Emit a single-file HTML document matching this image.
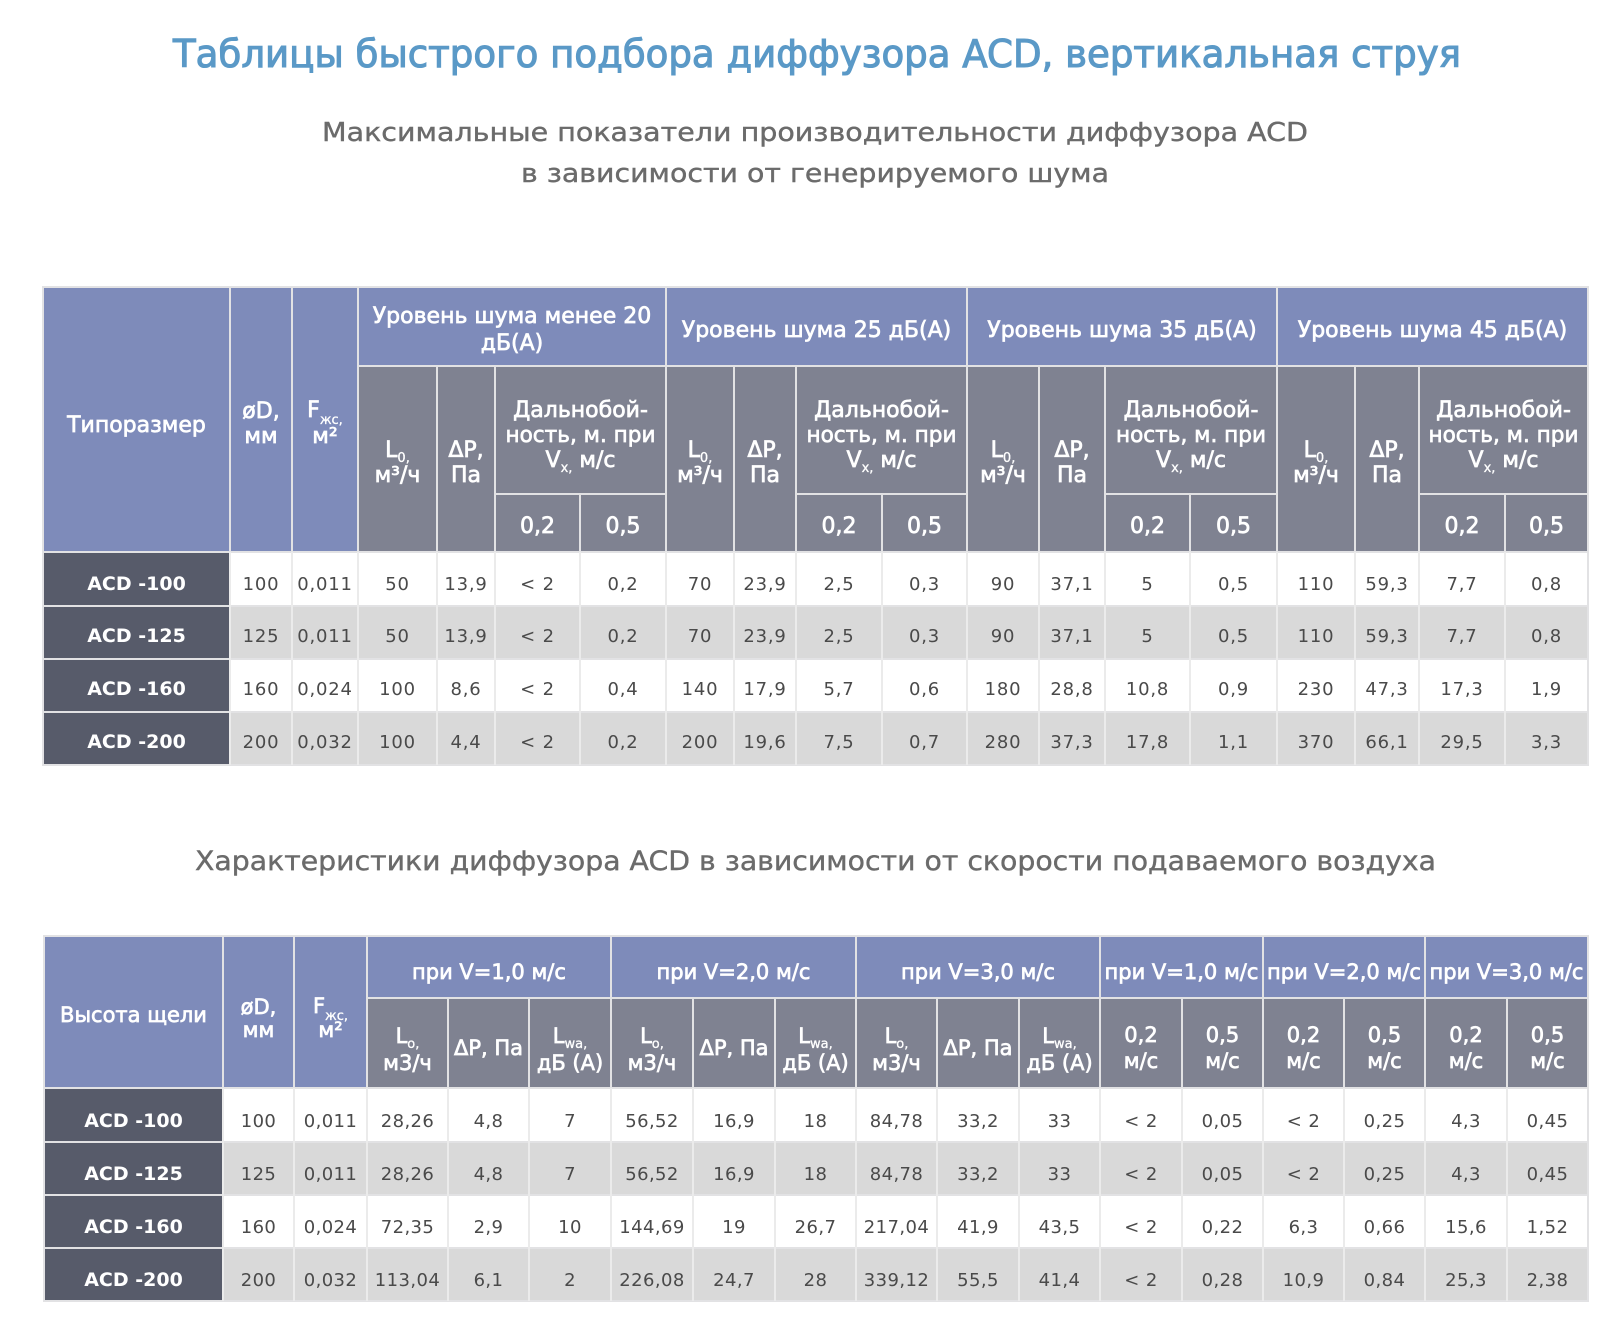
<!DOCTYPE html>
<html>
<head>
<meta charset="utf-8">
<style>
html,body{margin:0;padding:0;background:#fff;}
svg{display:block;}
.t{font-family:"DejaVu Sans","Liberation Sans",sans-serif;}
.h{font-family:"DejaVu Sans","Liberation Sans",sans-serif;font-size:22px;fill:#fff;stroke:#fff;stroke-width:0.7px;text-anchor:middle;}
.h2{font-family:"DejaVu Sans","Liberation Sans",sans-serif;font-size:21px;fill:#fff;stroke:#fff;stroke-width:0.7px;text-anchor:middle;}
.s{font-size:13px;stroke-width:0.3px;}
.d{font-family:"DejaVu Sans","Liberation Sans",sans-serif;font-size:18px;fill:#4a4a4a;text-anchor:middle;letter-spacing:0.8px;}
.d2{letter-spacing:0.4px;}
.n{font-family:"DejaVu Sans","Liberation Sans",sans-serif;font-size:19px;font-weight:bold;fill:#fff;text-anchor:middle;}
.b{fill:#7e8bba;}
.g{fill:#7f8291;}
.k{fill:#575b6a;}
.w{fill:#ffffff;}
.l{fill:#d9d9d9;}
.v{fill:#ebebeb;}
</style>
</head>
<body>
<svg width="1619" height="1338" viewBox="0 0 1619 1338" xmlns="http://www.w3.org/2000/svg">
<rect x="0" y="0" width="1619" height="1338" fill="#fff"/>

<!-- Titles -->
<text class="t" x="173" y="67" font-size="38" fill="#5a99c7" stroke="#5a99c7" stroke-width="1.1" textLength="1288" lengthAdjust="spacingAndGlyphs">Таблицы быстрого подбора диффузора ACD, вертикальная струя</text>
<text class="t" x="322" y="141" font-size="26" fill="#6b6b6b" stroke="#6b6b6b" stroke-width="0.4" textLength="986" lengthAdjust="spacingAndGlyphs">Максимальные показатели производительности диффузора ACD</text>
<text class="t" x="521" y="182" font-size="26" fill="#6b6b6b" stroke="#6b6b6b" stroke-width="0.4" textLength="588" lengthAdjust="spacingAndGlyphs">в зависимости от генерируемого шума</text>
<text class="t" x="195" y="870" font-size="27" fill="#6b6b6b" stroke="#6b6b6b" stroke-width="0.4" textLength="1241" lengthAdjust="spacingAndGlyphs">Характеристики диффузора ACD в зависимости от скорости подаваемого воздуха</text>

<!-- ================= TABLE 1 ================= -->
<rect x="42" y="286" width="1547" height="480" fill="#e2e2e4"/>
<rect class="b" x="44" y="288" width="185" height="263"/>
<rect class="b" x="231" y="288" width="60" height="263"/>
<rect class="b" x="293" y="288" width="64" height="263"/>
<rect class="b" x="359" y="288" width="306" height="77"/>
<rect class="b" x="667" y="288" width="299" height="77"/>
<rect class="b" x="968" y="288" width="308" height="77"/>
<rect class="b" x="1278" y="288" width="309" height="77"/>
<rect class="g" x="359" y="367" width="77" height="184"/>
<rect class="g" x="438" y="367" width="56" height="184"/>
<rect class="g" x="496" y="367" width="169" height="126"/>
<rect class="g" x="496" y="495" width="83" height="56"/>
<rect class="g" x="581" y="495" width="84" height="56"/>
<rect class="g" x="667" y="367" width="66" height="184"/>
<rect class="g" x="735" y="367" width="60" height="184"/>
<rect class="g" x="797" y="367" width="169" height="126"/>
<rect class="g" x="797" y="495" width="84" height="56"/>
<rect class="g" x="883" y="495" width="83" height="56"/>
<rect class="g" x="968" y="367" width="70" height="184"/>
<rect class="g" x="1040" y="367" width="64" height="184"/>
<rect class="g" x="1106" y="367" width="170" height="126"/>
<rect class="g" x="1106" y="495" width="83" height="56"/>
<rect class="g" x="1191" y="495" width="85" height="56"/>
<rect class="g" x="1278" y="367" width="76" height="184"/>
<rect class="g" x="1356" y="367" width="62" height="184"/>
<rect class="g" x="1420" y="367" width="167" height="126"/>
<rect class="g" x="1420" y="495" width="84" height="56"/>
<rect class="g" x="1506" y="495" width="81" height="56"/>

<rect class="w" x="44" y="553" width="1543" height="52"/>
<rect class="l" x="44" y="607" width="1543" height="51"/>
<rect class="w" x="44" y="660" width="1543" height="51"/>
<rect class="l" x="44" y="713" width="1543" height="51"/>
<rect class="k" x="44" y="553" width="185" height="52"/>
<rect class="k" x="44" y="607" width="185" height="51"/>
<rect class="k" x="44" y="660" width="185" height="51"/>
<rect class="k" x="44" y="713" width="185" height="51"/>
<g class="v">
<rect x="229" y="552" width="2" height="213"/>
<rect x="291" y="552" width="2" height="213"/>
<rect x="357" y="552" width="2" height="213"/>
<rect x="436" y="552" width="2" height="213"/>
<rect x="494" y="552" width="2" height="213"/>
<rect x="579" y="552" width="2" height="213"/>
<rect x="665" y="552" width="2" height="213"/>
<rect x="733" y="552" width="2" height="213"/>
<rect x="795" y="552" width="2" height="213"/>
<rect x="881" y="552" width="2" height="213"/>
<rect x="966" y="552" width="2" height="213"/>
<rect x="1038" y="552" width="2" height="213"/>
<rect x="1104" y="552" width="2" height="213"/>
<rect x="1189" y="552" width="2" height="213"/>
<rect x="1276" y="552" width="2" height="213"/>
<rect x="1354" y="552" width="2" height="213"/>
<rect x="1418" y="552" width="2" height="213"/>
<rect x="1504" y="552" width="2" height="213"/>
</g>

<text class="h" x="136.5" y="432">Типоразмер</text>
<text class="h" x="261" y="418">øD,</text>
<text class="h" x="261" y="443">мм</text>
<text class="h" x="325" y="417">F<tspan class="s" dy="7">жс,</tspan></text>
<text class="h" x="325" y="443">м²</text>
<text class="h" x="512" y="323">Уровень шума менее 20</text>
<text class="h" x="512" y="350">дБ(А)</text>
<text class="h" x="816.5" y="337">Уровень шума 25 дБ(А)</text>
<text class="h" x="1122" y="337">Уровень шума 35 дБ(А)</text>
<text class="h" x="1432.5" y="337">Уровень шума 45 дБ(А)</text>

<text class="h" x="397.5" y="457">L<tspan class="s" dy="5">0,</tspan></text>
<text class="h" x="397.5" y="482">м³/ч</text>
<text class="h" x="466" y="457">ΔP,</text>
<text class="h" x="466" y="482">Па</text>
<text class="h" x="580.5" y="417">Дальнобой-</text>
<text class="h" x="580.5" y="442" textLength="150" lengthAdjust="spacingAndGlyphs">ность, м. при</text>
<text class="h" x="580.5" y="467">V<tspan class="s" dy="5">x,</tspan><tspan dy="-5"> м/с</tspan></text>
<text class="h" x="537.5" y="533">0,2</text>
<text class="h" x="623" y="533">0,5</text>

<text class="h" x="700" y="457">L<tspan class="s" dy="5">0,</tspan></text>
<text class="h" x="700" y="482">м³/ч</text>
<text class="h" x="765" y="457">ΔP,</text>
<text class="h" x="765" y="482">Па</text>
<text class="h" x="881.5" y="417">Дальнобой-</text>
<text class="h" x="881.5" y="442" textLength="150" lengthAdjust="spacingAndGlyphs">ность, м. при</text>
<text class="h" x="881.5" y="467">V<tspan class="s" dy="5">x,</tspan><tspan dy="-5"> м/с</tspan></text>
<text class="h" x="839" y="533">0,2</text>
<text class="h" x="924.5" y="533">0,5</text>

<text class="h" x="1003" y="457">L<tspan class="s" dy="5">0,</tspan></text>
<text class="h" x="1003" y="482">м³/ч</text>
<text class="h" x="1072" y="457">ΔP,</text>
<text class="h" x="1072" y="482">Па</text>
<text class="h" x="1191" y="417">Дальнобой-</text>
<text class="h" x="1191" y="442" textLength="150" lengthAdjust="spacingAndGlyphs">ность, м. при</text>
<text class="h" x="1191" y="467">V<tspan class="s" dy="5">x,</tspan><tspan dy="-5"> м/с</tspan></text>
<text class="h" x="1147.5" y="533">0,2</text>
<text class="h" x="1233.5" y="533">0,5</text>

<text class="h" x="1316" y="457">L<tspan class="s" dy="5">0,</tspan></text>
<text class="h" x="1316" y="482">м³/ч</text>
<text class="h" x="1387" y="457">ΔP,</text>
<text class="h" x="1387" y="482">Па</text>
<text class="h" x="1503.5" y="417">Дальнобой-</text>
<text class="h" x="1503.5" y="442" textLength="150" lengthAdjust="spacingAndGlyphs">ность, м. при</text>
<text class="h" x="1503.5" y="467">V<tspan class="s" dy="5">x,</tspan><tspan dy="-5"> м/с</tspan></text>
<text class="h" x="1462" y="533">0,2</text>
<text class="h" x="1546.5" y="533">0,5</text>

<text class="n" x="136.5" y="590">ACD -100</text>
<text class="n" x="136.5" y="642">ACD -125</text>
<text class="n" x="136.5" y="695">ACD -160</text>
<text class="n" x="136.5" y="748">ACD -200</text>

<text class="d" y="590"><tspan x="261">100</tspan><tspan x="325">0,011</tspan><tspan x="397.5">50</tspan><tspan x="466">13,9</tspan><tspan x="537.5">&lt; 2</tspan><tspan x="623">0,2</tspan><tspan x="700">70</tspan><tspan x="765">23,9</tspan><tspan x="839">2,5</tspan><tspan x="924.5">0,3</tspan><tspan x="1003">90</tspan><tspan x="1072">37,1</tspan><tspan x="1147.5">5</tspan><tspan x="1233.5">0,5</tspan><tspan x="1316">110</tspan><tspan x="1387">59,3</tspan><tspan x="1462">7,7</tspan><tspan x="1546.5">0,8</tspan></text>
<text class="d" y="642"><tspan x="261">125</tspan><tspan x="325">0,011</tspan><tspan x="397.5">50</tspan><tspan x="466">13,9</tspan><tspan x="537.5">&lt; 2</tspan><tspan x="623">0,2</tspan><tspan x="700">70</tspan><tspan x="765">23,9</tspan><tspan x="839">2,5</tspan><tspan x="924.5">0,3</tspan><tspan x="1003">90</tspan><tspan x="1072">37,1</tspan><tspan x="1147.5">5</tspan><tspan x="1233.5">0,5</tspan><tspan x="1316">110</tspan><tspan x="1387">59,3</tspan><tspan x="1462">7,7</tspan><tspan x="1546.5">0,8</tspan></text>
<text class="d" y="695"><tspan x="261">160</tspan><tspan x="325">0,024</tspan><tspan x="397.5">100</tspan><tspan x="466">8,6</tspan><tspan x="537.5">&lt; 2</tspan><tspan x="623">0,4</tspan><tspan x="700">140</tspan><tspan x="765">17,9</tspan><tspan x="839">5,7</tspan><tspan x="924.5">0,6</tspan><tspan x="1003">180</tspan><tspan x="1072">28,8</tspan><tspan x="1147.5">10,8</tspan><tspan x="1233.5">0,9</tspan><tspan x="1316">230</tspan><tspan x="1387">47,3</tspan><tspan x="1462">17,3</tspan><tspan x="1546.5">1,9</tspan></text>
<text class="d" y="748"><tspan x="261">200</tspan><tspan x="325">0,032</tspan><tspan x="397.5">100</tspan><tspan x="466">4,4</tspan><tspan x="537.5">&lt; 2</tspan><tspan x="623">0,2</tspan><tspan x="700">200</tspan><tspan x="765">19,6</tspan><tspan x="839">7,5</tspan><tspan x="924.5">0,7</tspan><tspan x="1003">280</tspan><tspan x="1072">37,3</tspan><tspan x="1147.5">17,8</tspan><tspan x="1233.5">1,1</tspan><tspan x="1316">370</tspan><tspan x="1387">66,1</tspan><tspan x="1462">29,5</tspan><tspan x="1546.5">3,3</tspan></text>

<!-- ================= TABLE 2 ================= -->
<rect x="43" y="935" width="1546" height="367" fill="#e2e2e4"/>
<rect class="b" x="45" y="937" width="177" height="150"/>
<rect class="b" x="224" y="937" width="69" height="150"/>
<rect class="b" x="295" y="937" width="71" height="150"/>
<rect class="b" x="368" y="937" width="242" height="60"/>
<rect class="b" x="612" y="937" width="243" height="60"/>
<rect class="b" x="857" y="937" width="242" height="60"/>
<rect class="b" x="1101" y="937" width="161" height="60"/>
<rect class="b" x="1264" y="937" width="160" height="60"/>
<rect class="b" x="1426" y="937" width="161" height="60"/>
<g class="g">
<rect x="368" y="999" width="79" height="88"/>
<rect x="449" y="999" width="79" height="88"/>
<rect x="530" y="999" width="80" height="88"/>
<rect x="612" y="999" width="80" height="88"/>
<rect x="694" y="999" width="80" height="88"/>
<rect x="776" y="999" width="79" height="88"/>
<rect x="857" y="999" width="79" height="88"/>
<rect x="938" y="999" width="80" height="88"/>
<rect x="1020" y="999" width="79" height="88"/>
<rect x="1101" y="999" width="80" height="88"/>
<rect x="1183" y="999" width="79" height="88"/>
<rect x="1264" y="999" width="79" height="88"/>
<rect x="1345" y="999" width="79" height="88"/>
<rect x="1426" y="999" width="80" height="88"/>
<rect x="1508" y="999" width="79" height="88"/>
</g>

<rect class="w" x="45" y="1089" width="1542" height="52"/>
<rect class="l" x="45" y="1143" width="1542" height="51"/>
<rect class="w" x="45" y="1196" width="1542" height="51"/>
<rect class="l" x="45" y="1249" width="1542" height="51"/>
<rect class="k" x="45" y="1089" width="177" height="52"/>
<rect class="k" x="45" y="1143" width="177" height="51"/>
<rect class="k" x="45" y="1196" width="177" height="51"/>
<rect class="k" x="45" y="1249" width="177" height="51"/>
<g class="v">
<rect x="222" y="1088" width="2" height="213"/>
<rect x="293" y="1088" width="2" height="213"/>
<rect x="366" y="1088" width="2" height="213"/>
<rect x="447" y="1088" width="2" height="213"/>
<rect x="528" y="1088" width="2" height="213"/>
<rect x="610" y="1088" width="2" height="213"/>
<rect x="692" y="1088" width="2" height="213"/>
<rect x="774" y="1088" width="2" height="213"/>
<rect x="855" y="1088" width="2" height="213"/>
<rect x="936" y="1088" width="2" height="213"/>
<rect x="1018" y="1088" width="2" height="213"/>
<rect x="1099" y="1088" width="2" height="213"/>
<rect x="1181" y="1088" width="2" height="213"/>
<rect x="1262" y="1088" width="2" height="213"/>
<rect x="1343" y="1088" width="2" height="213"/>
<rect x="1424" y="1088" width="2" height="213"/>
<rect x="1506" y="1088" width="2" height="213"/>
</g>

<text class="h2" x="133.5" y="1022">Высота щели</text>
<text class="h2" x="258.5" y="1014">øD,</text>
<text class="h2" x="258.5" y="1037">мм</text>
<text class="h2" x="330.5" y="1013">F<tspan class="s" dy="7">жс,</tspan></text>
<text class="h2" x="330.5" y="1037">м²</text>
<text class="h2" x="489" y="979">при V=1,0 м/с</text>
<text class="h2" x="733.5" y="979">при V=2,0 м/с</text>
<text class="h2" x="978" y="979">при V=3,0 м/с</text>
<text class="h2" x="1181.5" y="979">при V=1,0 м/с</text>
<text class="h2" x="1344" y="979">при V=2,0 м/с</text>
<text class="h2" x="1506.5" y="979">при V=3,0 м/с</text>

<text class="h2" x="407.5" y="1043">L<tspan class="s" dy="5">o,</tspan></text>
<text class="h2" x="407.5" y="1070">м3/ч</text>
<text class="h2" x="488.5" y="1055">ΔP, Па</text>
<text class="h2" x="570" y="1043">L<tspan class="s" dy="5">wa,</tspan></text>
<text class="h2" x="570" y="1070">дБ (А)</text>

<text class="h2" x="652" y="1043">L<tspan class="s" dy="5">o,</tspan></text>
<text class="h2" x="652" y="1070">м3/ч</text>
<text class="h2" x="734" y="1055">ΔP, Па</text>
<text class="h2" x="815.5" y="1043">L<tspan class="s" dy="5">wa,</tspan></text>
<text class="h2" x="815.5" y="1070">дБ (А)</text>

<text class="h2" x="896.5" y="1043">L<tspan class="s" dy="5">o,</tspan></text>
<text class="h2" x="896.5" y="1070">м3/ч</text>
<text class="h2" x="978" y="1055">ΔP, Па</text>
<text class="h2" x="1059.5" y="1043">L<tspan class="s" dy="5">wa,</tspan></text>
<text class="h2" x="1059.5" y="1070">дБ (А)</text>

<text class="h2" x="1141" y="1042">0,2</text>
<text class="h2" x="1141" y="1068">м/с</text>
<text class="h2" x="1222.5" y="1042">0,5</text>
<text class="h2" x="1222.5" y="1068">м/с</text>
<text class="h2" x="1303.5" y="1042">0,2</text>
<text class="h2" x="1303.5" y="1068">м/с</text>
<text class="h2" x="1384.5" y="1042">0,5</text>
<text class="h2" x="1384.5" y="1068">м/с</text>
<text class="h2" x="1466" y="1042">0,2</text>
<text class="h2" x="1466" y="1068">м/с</text>
<text class="h2" x="1547.5" y="1042">0,5</text>
<text class="h2" x="1547.5" y="1068">м/с</text>

<text class="n" x="133.5" y="1127">ACD -100</text>
<text class="n" x="133.5" y="1180">ACD -125</text>
<text class="n" x="133.5" y="1233">ACD -160</text>
<text class="n" x="133.5" y="1286">ACD -200</text>

<text class="d d2" y="1127"><tspan x="258.5">100</tspan><tspan x="330.5">0,011</tspan><tspan x="407.5">28,26</tspan><tspan x="488.5">4,8</tspan><tspan x="570">7</tspan><tspan x="652">56,52</tspan><tspan x="734">16,9</tspan><tspan x="815.5">18</tspan><tspan x="896.5">84,78</tspan><tspan x="978">33,2</tspan><tspan x="1059.5">33</tspan><tspan x="1141">&lt; 2</tspan><tspan x="1222.5">0,05</tspan><tspan x="1303.5">&lt; 2</tspan><tspan x="1384.5">0,25</tspan><tspan x="1466">4,3</tspan><tspan x="1547.5">0,45</tspan></text>
<text class="d d2" y="1180"><tspan x="258.5">125</tspan><tspan x="330.5">0,011</tspan><tspan x="407.5">28,26</tspan><tspan x="488.5">4,8</tspan><tspan x="570">7</tspan><tspan x="652">56,52</tspan><tspan x="734">16,9</tspan><tspan x="815.5">18</tspan><tspan x="896.5">84,78</tspan><tspan x="978">33,2</tspan><tspan x="1059.5">33</tspan><tspan x="1141">&lt; 2</tspan><tspan x="1222.5">0,05</tspan><tspan x="1303.5">&lt; 2</tspan><tspan x="1384.5">0,25</tspan><tspan x="1466">4,3</tspan><tspan x="1547.5">0,45</tspan></text>
<text class="d d2" y="1233"><tspan x="258.5">160</tspan><tspan x="330.5">0,024</tspan><tspan x="407.5">72,35</tspan><tspan x="488.5">2,9</tspan><tspan x="570">10</tspan><tspan x="652">144,69</tspan><tspan x="734">19</tspan><tspan x="815.5">26,7</tspan><tspan x="896.5">217,04</tspan><tspan x="978">41,9</tspan><tspan x="1059.5">43,5</tspan><tspan x="1141">&lt; 2</tspan><tspan x="1222.5">0,22</tspan><tspan x="1303.5">6,3</tspan><tspan x="1384.5">0,66</tspan><tspan x="1466">15,6</tspan><tspan x="1547.5">1,52</tspan></text>
<text class="d d2" y="1286"><tspan x="258.5">200</tspan><tspan x="330.5">0,032</tspan><tspan x="407.5">113,04</tspan><tspan x="488.5">6,1</tspan><tspan x="570">2</tspan><tspan x="652">226,08</tspan><tspan x="734">24,7</tspan><tspan x="815.5">28</tspan><tspan x="896.5">339,12</tspan><tspan x="978">55,5</tspan><tspan x="1059.5">41,4</tspan><tspan x="1141">&lt; 2</tspan><tspan x="1222.5">0,28</tspan><tspan x="1303.5">10,9</tspan><tspan x="1384.5">0,84</tspan><tspan x="1466">25,3</tspan><tspan x="1547.5">2,38</tspan></text>
</svg>
</body>
</html>
